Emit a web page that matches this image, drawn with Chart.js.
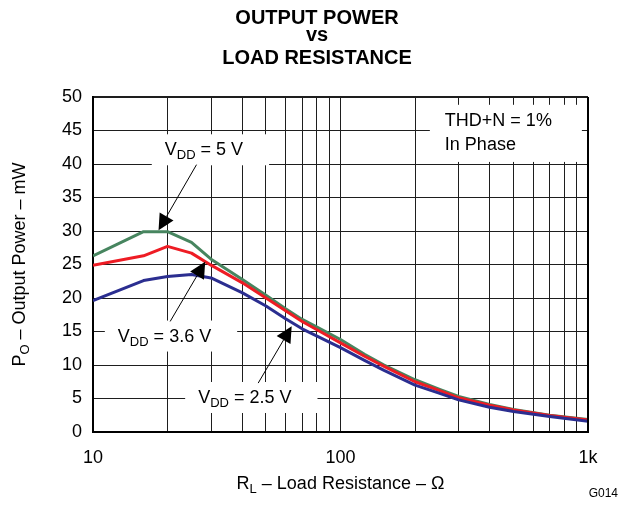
<!DOCTYPE html>
<html>
<head>
<meta charset="utf-8">
<script src="https://cdn.jsdelivr.net/npm/chart.js@4.4.0/dist/chart.umd.min.js"></script>
<style>
  html, body { margin: 0; padding: 0; background: #fff; }
  #wrap { width: 629px; height: 510px; }
</style>
</head>
<body>
<div id="wrap"><canvas id="chart" width="629" height="510"></canvas></div>
<script>
// load resistance (ohm) vs output power (mW)
const loadR  = [10, 16, 20, 25, 30, 40, 50, 60, 70, 80, 100, 125, 150, 200, 250, 300, 400, 500, 700, 1000];
const pwr5V  = [26.3, 29.9, 29.9, 28.3, 25.8, 22.8, 20.4, 18.4, 16.8, 15.7, 13.8, 11.6, 10.0, 7.8, 6.4, 5.3, 4.1, 3.35, 2.5, 1.85];
const pwr3V6 = [24.9, 26.3, 27.7, 26.7, 24.9, 22.3, 20.0, 18.1, 16.5, 15.3, 13.3, 11.3, 9.8, 7.5, 6.2, 5.1, 4.0, 3.3, 2.45, 1.8];
const pwr2V5 = [19.6, 22.6, 23.2, 23.5, 23.0, 20.8, 18.8, 16.9, 15.4, 14.35, 12.6, 10.7, 9.2, 7.0, 5.8, 4.8, 3.7, 3.05, 2.3, 1.6];

const xTicks  = [10, 20, 30, 40, 50, 60, 70, 80, 90, 100, 200, 300, 400, 500, 600, 700, 800, 900, 1000];
const xLabels = { 10: '10', 100: '100', 1000: '1k' };
const yMin = 0, yMax = 50, yStep = 5;

// callouts, in data units: text anchor (left/baseline), arrow start, arrow tip
const noteText = [
  [['V'], ['DD', 1], [' = 5 V']],
  [['V'], ['DD', 1], [' = 3.6 V']],
  [['V'], ['DD', 1], [' = 2.5 V']]
];
const noteAt   = [[19.5, 41.3], [12.6, 13.5], [26.6, 4.33]];
const noteFrom = [[26.2, 39.9], [20.5, 16.5], [46.5, 7.3]];
const noteTip  = [[18.4, 30.1], [28.4, 25.4], [63.5, 15.8]];
const condText = ['THD+N = 1%', 'In Phase'];
const condAt   = [[264, 45.7], [264, 42.1]];

const FONT = '"Liberation Sans", Arial, Helvetica, sans-serif';

function toXY(ys) { return loadR.map((r, i) => ({ x: r, y: ys[i] })); }

// draw text made of plain / subscript parts, returns width
function partsWidth(ctx, parts, size) {
  let w = 0;
  parts.forEach(p => {
    ctx.font = (p[1] ? Math.round(size * 0.72) : size) + 'px ' + FONT;
    w += ctx.measureText(p[0]).width;
  });
  return w;
}
function drawParts(ctx, parts, x, y, size) {
  ctx.textAlign = 'left';
  ctx.textBaseline = 'alphabetic';
  parts.forEach(p => {
    ctx.font = (p[1] ? Math.round(size * 0.72) : size) + 'px ' + FONT;
    ctx.fillText(p[0], x, p[1] ? y + 4 : y);
    x += ctx.measureText(p[0]).width;
  });
}
function arrow(ctx, x0, y0, x1, y1) {
  const a = Math.atan2(y1 - y0, x1 - x0);
  const len = 16, half = 8;
  const bx = x1 - len * Math.cos(a), by = y1 - len * Math.sin(a);
  ctx.strokeStyle = '#000';
  ctx.lineWidth = 1;
  ctx.beginPath();
  ctx.moveTo(x0, y0);
  ctx.lineTo(bx, by);
  ctx.stroke();
  ctx.fillStyle = '#000';
  ctx.beginPath();
  ctx.moveTo(x1, y1);
  ctx.lineTo(bx + half * Math.sin(a), by - half * Math.cos(a));
  ctx.lineTo(bx - half * Math.sin(a), by + half * Math.cos(a));
  ctx.closePath();
  ctx.fill();
}

const textPlugin = {
  id: 'sheetText',
  afterDraw(chart) {
    const ctx = chart.ctx;
    const xs = chart.scales.x, ys = chart.scales.y;
    const area = chart.chartArea;
    const px = v => xs.getPixelForValue(v[0]);
    const py = v => ys.getPixelForValue(v[1]);
    ctx.save();

    // callouts with white boxes
    noteText.forEach((parts, i) => {
      const tx = px(noteAt[i]), ty = py(noteAt[i]);
      const w = partsWidth(ctx, parts, 18);
      ctx.fillStyle = '#fff';
      ctx.fillRect(tx - 13, ty - 21, w + 39, 31);
      arrow(ctx, px(noteFrom[i]), py(noteFrom[i]), px(noteTip[i]), py(noteTip[i]));
      ctx.fillStyle = '#000';
      drawParts(ctx, parts, tx, ty, 18);
    });

    // test conditions box
    ctx.font = '18px ' + FONT;
    const cw = Math.max(...condText.map(t => ctx.measureText(t).width));
    const cx = px(condAt[0]);
    ctx.fillStyle = '#fff';
    ctx.fillRect(cx - 15, py(condAt[0]) - 21, cw + 45, py(condAt[1]) - py(condAt[0]) + 33);
    ctx.fillStyle = '#000';
    ctx.textAlign = 'left';
    ctx.textBaseline = 'alphabetic';
    condText.forEach((t, i) => ctx.fillText(t, cx, py(condAt[i])));

    // redraw the frame edges the boxes may cover
    ctx.strokeStyle = '#000';
    ctx.lineWidth = 2;
    ctx.beginPath();
    ctx.moveTo(area.right, area.top);
    ctx.lineTo(area.right, area.bottom);
    ctx.stroke();

    // title
    ctx.fillStyle = '#000';
    ctx.textAlign = 'center';
    ctx.font = 'bold 20px ' + FONT;
    ctx.fillText('OUTPUT POWER', 317, 23.5);
    ctx.fillText('vs', 317, 41);
    ctx.fillText('LOAD RESISTANCE', 317, 64);

    // x axis title
    const midX = (area.left + area.right) / 2;
    const xt = [['R'], ['L', 1], [' \u2013 Load Resistance \u2013 \u03A9']];
    drawParts(ctx, xt, midX - partsWidth(ctx, xt, 18) / 2, 489, 18);

    // y axis title
    const yt = [['P'], ['O', 1], [' \u2013 Output Power \u2013 mW']];
    ctx.save();
    ctx.translate(25, (area.top + area.bottom) / 2);
    ctx.rotate(-Math.PI / 2);
    drawParts(ctx, yt, -partsWidth(ctx, yt, 18) / 2, 0, 18);
    ctx.restore();

    // figure id
    ctx.font = '12px ' + FONT;
    ctx.textAlign = 'right';
    ctx.fillText('G014', 618, 497);
    ctx.restore();
  }
};

const lineStyle = { borderWidth: 3, pointRadius: 0, tension: 0, fill: false, borderJoinStyle: 'round' };

new Chart(document.getElementById('chart'), {
  type: 'line',
  data: {
    datasets: [
      Object.assign({ label: 'VDD = 5 V', data: toXY(pwr5V), borderColor: '#47855f', order: 3 }, lineStyle),
      Object.assign({ label: 'VDD = 3.6 V', data: toXY(pwr3V6), borderColor: '#ee1c24', order: 2 }, lineStyle),
      Object.assign({ label: 'VDD = 2.5 V', data: toXY(pwr2V5), borderColor: '#2b2e90', order: 1 }, lineStyle)
    ]
  },
  options: {
    responsive: false,
    animation: false,
    layout: { padding: { top: 97, right: 41, bottom: 0, left: 0 } },
    plugins: { legend: { display: false }, tooltip: { enabled: false }, title: { display: false } },
    scales: {
      x: {
        type: 'logarithmic',
        min: 10,
        max: 1000,
        afterBuildTicks: s => { s.ticks = xTicks.map(v => ({ value: v })); },
        afterFit: s => { s.height = 78; },
        ticks: {
          autoSkip: false,
          maxRotation: 0,
          padding: 15,
          color: '#000',
          font: { family: FONT, size: 18 },
          callback: v => xLabels[v] || ''
        },
        grid: {
          drawTicks: false,
          color: '#1e1e1e',
          lineWidth: c => (c.tick && c.tick.value === 1000 ? 2 : 1)
        },
        border: { color: '#000', width: 2 }
      },
      y: {
        min: yMin,
        max: yMax,
        afterFit: s => { s.width = 93; },
        ticks: {
          stepSize: yStep,
          padding: 11,
          color: '#000',
          font: { family: FONT, size: 18 }
        },
        grid: {
          drawTicks: false,
          color: '#1e1e1e',
          lineWidth: c => (c.tick && c.tick.value === yMax ? 2 : 1)
        },
        border: { color: '#000', width: 2 }
      }
    }
  },
  plugins: [textPlugin]
});
</script>
</body>
</html>
